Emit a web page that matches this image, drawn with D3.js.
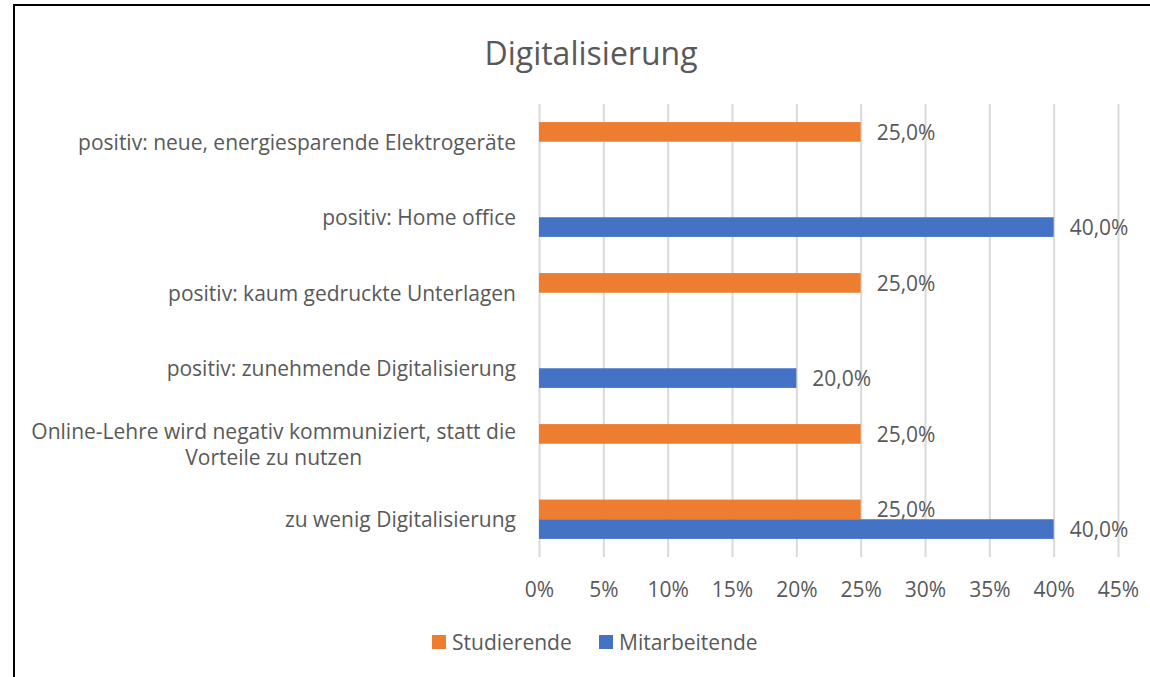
<!DOCTYPE html>
<html><head><meta charset="utf-8">
<script src="https://cdn.jsdelivr.net/npm/d3@7"></script>
<style>
body{margin:0;background:#fff;overflow:hidden;}
svg{display:block;}
text{font-family:"Open Sans",sans-serif;fill:#595959;}
</style></head>
<body>
<svg id="chart" width="1150" height="677"></svg>
<script>
const title = "Digitalisierung";
const categories = [
  ["positiv: neue, energiesparende Elektrogeräte"],
  ["positiv: Home office"],
  ["positiv: kaum gedruckte Unterlagen"],
  ["positiv: zunehmende Digitalisierung "],
  ["Online-Lehre wird negativ kommuniziert, statt die", "Vorteile zu nutzen"],
  ["zu wenig Digitalisierung"]
];
const seriesNames = ["Studierende", "Mitarbeitende"];
const studierende = [25, null, 25, null, 25, 25];
const mitarbeitende = [null, 40, null, 20, null, 40];
const colors = ["#ED7D31", "#4472C4"];
const tickValues = [0, 5, 10, 15, 20, 25, 30, 35, 40, 45];

const FS = "21px";
const svg = d3.select("#chart");
// outer border
svg.append("rect").attr("x", 14).attr("y", 5).attr("width", 1150).attr("height", 700)
  .attr("fill", "none").attr("stroke", "#000").attr("stroke-width", 2);

const pLeft = 539, pRight = 1118, pTop = 104, pBottom = 557;
const x = d3.scaleLinear().domain([0, 45]).range([pLeft, pRight]);
const y = d3.scaleBand().domain(d3.range(categories.length)).range([pTop, pBottom]).paddingInner(0).paddingOuter(0);
const inner = d3.scaleBand().domain([0, 1]).range([0, y.bandwidth()]).paddingInner(0).paddingOuter(0.92);

// title
svg.append("text").attr("x", 591).attr("y", 52).attr("text-anchor", "middle")
  .attr("dominant-baseline", "central").style("font-size", "32px").text(title);

// grid
const gx = svg.append("g").attr("transform", `translate(0,${pBottom})`)
  .call(d3.axisBottom(x).tickValues(tickValues).tickSize(-(pBottom - pTop)).tickFormat(d => d + "%"));
gx.select(".domain").remove();
gx.selectAll("line").attr("stroke", "#D9D9D9").attr("stroke-width", 2);
gx.selectAll("text").attr("y", 33).attr("dy", "0.35em").style("font-size", FS).style("fill", "#595959")
  .style("font-family", "'Open Sans',sans-serif");

// bars
const seriesData = [studierende, mitarbeitende];
seriesData.forEach((vals, si) => {
  const g = svg.append("g");
  vals.forEach((v, ci) => {
    if (v == null) return;
    const by = y(ci) + inner(si);
    g.append("rect").attr("x", x(0)).attr("y", by).attr("width", x(v) - x(0))
      .attr("height", inner.bandwidth()).attr("fill", colors[si]);
    g.append("text").attr("x", x(v) + 16).attr("y", by + inner.bandwidth() / 2)
      .attr("dominant-baseline", "central").style("font-size", FS)
      .text(v.toFixed(1).replace(".", ",") + "%");
  });
});

// category labels
categories.forEach((lines, ci) => {
  const cy = y(ci) + y.bandwidth() / 2;
  const lh = 26;
  const startY = cy - (lines.length - 1) * lh / 2;
  const t = svg.append("text").style("font-size", FS).attr("dominant-baseline", "central");
  if (lines.length === 1) {
    t.attr("x", 516).attr("y", startY).attr("text-anchor", "end").text(lines[0]);
  } else {
    const tmp = svg.append("text").style("font-size", FS).text(lines[0]);
    const w = tmp.node().getComputedTextLength();
    tmp.remove();
    const cx = 516 - w / 2;
    lines.forEach((ln, i) => {
      t.append("tspan").attr("x", cx).attr("y", startY + i * lh).attr("text-anchor", "middle").text(ln);
    });
  }
});

// legend
const legend = svg.append("g");
const legX = [432, 599];
seriesNames.forEach((n, i) => {
  legend.append("rect").attr("x", legX[i]).attr("y", 635).attr("width", 14).attr("height", 14).attr("fill", colors[i]);
  legend.append("text").attr("x", legX[i] + 20).attr("y", 642).attr("dominant-baseline", "central")
    .style("font-size", FS).text(n);
});
</script>
</body></html>
